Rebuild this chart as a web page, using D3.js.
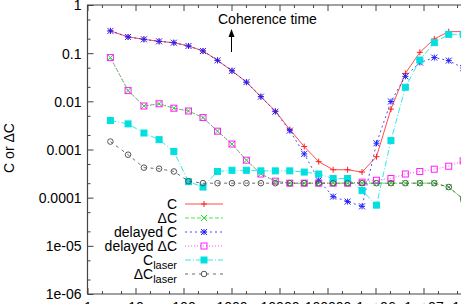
<!DOCTYPE html>
<html>
<head>
<meta charset="utf-8">
<script src="https://cdn.jsdelivr.net/npm/d3@7"></script>
<style>
  body { margin: 0; background: #fff; }
  svg { display: block; font-family: "Liberation Sans", Arial, sans-serif; }
  .tick text { font-size: 14px; fill: #000; }
</style>
</head>
<body>
<div id="chart"></div>
<script>
// time steps (x axis)
const steps = [3, 7, 15, 31, 63, 127, 255, 511, 1023, 2047, 4095, 8191, 16383, 32767,
    65535, 131071, 262143, 524287, 1048575, 2097151, 4194303, 8388607, 16777215, 33554431, 67108863];

const cValues = [0.29, 0.217, 0.194, 0.176, 0.165, 0.141, 0.111, 0.071, 0.043, 0.025, 0.0125, 0.0063,
    0.0026, 0.00115, 0.00056, 0.00038, 0.00038, 0.00034, 0.00071, 0.0069, 0.038, 0.104, 0.197, 0.28, 0.28];
const dcValues = [0.081, 0.0167, 0.008, 0.0089, 0.0072, 0.0063, 0.0046, 0.0024, 0.0013, 0.0006, 0.00031,
    0.00022, 0.0002, 0.0002, 0.0002, 0.0002, 0.0002, 0.0002, 0.0002, 0.0002, 0.0002, 0.0002, 0.0002, 0.000166, 0.000093];
const delayedC = [0.29, 0.217, 0.194, 0.176, 0.165, 0.141, 0.111, 0.071, 0.043, 0.025, 0.0125, 0.0061,
    0.00246, 0.00081, 0.00023, 0.000105, 0.000083, 0.000066, 0.00135, 0.0099, 0.033, 0.064, 0.081, 0.07, 0.049];
const delayedDC = [0.081, 0.0167, 0.008, 0.0089, 0.0072, 0.0063, 0.0046, 0.0024, 0.0013, 0.0006, 0.00031,
    0.00022, 0.0002, 0.0002, 0.0002, 0.0002, 0.0002, 0.00021, 0.00023, 0.00025, 0.00031, 0.00035, 0.00039, 0.00045, 0.00058];
const cLaser = [0.004, 0.0034, 0.0022, 0.0016, 0.00091, 0.000215, 0.000166, 0.00035, 0.00037, 0.00037, 0.00036,
    0.00036, 0.00036, 0.00034, 0.00031, 0.00025, 0.00025, 0.00014, 0.00007, 0.00153, 0.0196, 0.072, 0.165, 0.246, 0.246];
const dcLaser = [0.00146, 0.00078, 0.00042, 0.0004, 0.00035, 0.00022, 0.0002, 0.0002, 0.0002, 0.0002, 0.0002,
    0.0002, 0.0002, 0.0002, 0.0002, 0.0002, 0.0002, 0.0002, 0.0002, 0.0002, 0.0002, 0.0002, 0.0002, 0.000166, 0.000093];

const xTickValues = [1, 10, 100, 1000, 10000, 100000, 1e6, 1e7, 1e8];
const xTickLabels = ["1", "10", "100", "1000", "10000", "100000", "1e+06", "1e+07", "1e+08"];
const yTickValues = [1, 0.1, 0.01, 0.001, 0.0001, 1e-5, 1e-6];
const yTickLabels = ["1", "0.1", "0.01", "0.001", "0.0001", "1e-05", "1e-06"];

// series: name, subscript, colour, dash, marker
const seriesInfo = [
    {name: "C", sub: "", values: cValues, color: "#ff2020", dash: null, marker: "plus"},
    {name: "\u0394C", sub: "", values: dcValues, color: "#20e020", dash: "4,2", marker: "cross"},
    {name: "delayed C", sub: "", values: delayedC, color: "#2020ff", dash: "2,3", marker: "star"},
    {name: "delayed \u0394C", sub: "", values: delayedDC, color: "#ff20ff", dash: "1,2", marker: "box"},
    {name: "C", sub: "laser", values: cLaser, color: "#00e0e0", dash: "6,2,1,2", marker: "fbox"},
    {name: "\u0394C", sub: "laser", values: dcLaser, color: "#444444", dash: "3,4", marker: "circle"}
];

const W = 461, H = 304;
const plotLeft = 87.5, plotTop = 5, plotBottom = 294;
const decade = 48;

const xScale = d3.scaleLog().domain([1, 1e8]).range([plotLeft, plotLeft + 8 * decade]);
const yScale = d3.scaleLog().domain([1e-6, 1]).range([plotBottom, plotTop]);

const svg = d3.select("#chart").append("svg")
    .attr("width", W)
    .attr("height", H);

svg.append("defs").append("clipPath").attr("id", "plotClip")
    .append("rect")
    .attr("x", plotLeft).attr("y", plotTop)
    .attr("width", 8 * decade).attr("height", plotBottom - plotTop);

// minor ticks at 2 and 5 in each decade
function minorTicks(lo, hi) {
    let out = [];
    for (let p = lo; p < hi; p++) {
        out.push(2 * Math.pow(10, p), 5 * Math.pow(10, p));
    }
    return out;
}

const axisColor = "#444";

function styleAxis(g) {
    g.select(".domain").remove();
    g.selectAll(".tick line").attr("stroke", axisColor).attr("stroke-width", 1);
}

// x axis, bottom (ticks inward)
svg.append("g")
    .attr("transform", "translate(0," + plotBottom + ")")
    .call(d3.axisBottom(xScale).tickValues(xTickValues).tickSizeInner(-6).tickSizeOuter(0)
        .tickPadding(8).tickFormat(function(d, i) { return xTickLabels[i]; }))
    .call(styleAxis);
svg.append("g")
    .attr("transform", "translate(0," + plotBottom + ")")
    .call(d3.axisBottom(xScale).tickValues(minorTicks(0, 8)).tickSizeInner(-3).tickSizeOuter(0).tickFormat(""))
    .call(styleAxis);
// x axis, top mirror
svg.append("g")
    .attr("transform", "translate(0," + plotTop + ")")
    .call(d3.axisTop(xScale).tickValues(xTickValues).tickSizeInner(-6).tickSizeOuter(0).tickFormat(""))
    .call(styleAxis);
svg.append("g")
    .attr("transform", "translate(0," + plotTop + ")")
    .call(d3.axisTop(xScale).tickValues(minorTicks(0, 8)).tickSizeInner(-3).tickSizeOuter(0).tickFormat(""))
    .call(styleAxis);

// y axis
svg.append("g")
    .attr("transform", "translate(" + plotLeft + ",0)")
    .call(d3.axisLeft(yScale).tickValues(yTickValues).tickSizeInner(-6).tickSizeOuter(0)
        .tickPadding(6).tickFormat(function(d, i) { return yTickLabels[i]; }))
    .call(styleAxis)
    .selectAll("text").attr("dy", "0.35em");
svg.append("g")
    .attr("transform", "translate(" + plotLeft + ",0)")
    .call(d3.axisLeft(yScale).tickValues(minorTicks(-6, 0)).tickSizeInner(-3).tickSizeOuter(0).tickFormat(""))
    .call(styleAxis);

// frame
svg.append("path")
    .attr("d", "M" + W + "," + plotTop + "H" + plotLeft + "V" + plotBottom + "H" + W)
    .attr("fill", "none")
    .attr("stroke", axisColor)
    .attr("stroke-width", 1.2);

// y label
svg.append("text")
    .attr("transform", "translate(14,148) rotate(-90)")
    .attr("text-anchor", "middle")
    .style("font-size", "14px")
    .text("C or \u0394C");

// coherence time annotation
svg.append("text")
    .attr("x", 218).attr("y", 24)
    .style("font-size", "14px")
    .text("Coherence time");
svg.append("line")
    .attr("x1", 231.5).attr("y1", 52).attr("x2", 231.5).attr("y2", 31)
    .attr("stroke", "#000").attr("stroke-width", 1);
svg.append("path")
    .attr("d", "M231.5,29 L228.5,37 L234.5,37 Z")
    .attr("fill", "#000");

function drawMarker(g, type, cx, cy, color) {
    const s = 3;
    if (type === "plus" || type === "star") {
        g.append("path").attr("d", "M" + (cx - s) + "," + cy + "H" + (cx + s) + "M" + cx + "," + (cy - s) + "V" + (cy + s))
            .attr("stroke", color).attr("stroke-width", 1).attr("fill", "none");
    }
    if (type === "cross" || type === "star") {
        g.append("path").attr("d", "M" + (cx - s) + "," + (cy - s) + "L" + (cx + s) + "," + (cy + s) +
                "M" + (cx - s) + "," + (cy + s) + "L" + (cx + s) + "," + (cy - s))
            .attr("stroke", color).attr("stroke-width", 1).attr("fill", "none");
    }
    if (type === "box" || type === "fbox") {
        g.append("rect").attr("x", cx - s).attr("y", cy - s).attr("width", 2 * s).attr("height", 2 * s)
            .attr("stroke", color).attr("stroke-width", 1)
            .attr("fill", type === "fbox" ? color : "none");
    }
    if (type === "circle") {
        g.append("circle").attr("cx", cx).attr("cy", cy).attr("r", 2.8)
            .attr("stroke", "#555").attr("stroke-width", 1).attr("fill", "none");
    }
}

const line = d3.line()
    .x(function(d) { return xScale(d.x); })
    .y(function(d) { return yScale(d.y); });

const plotG = svg.append("g").attr("clip-path", "url(#plotClip)");

seriesInfo.forEach(function(s) {
    const pts = steps.map(function(x, i) { return {x: x, y: s.values[i]}; });
    plotG.append("path")
        .attr("d", line(pts))
        .attr("fill", "none")
        .attr("stroke", s.color)
        .attr("stroke-width", 0.8)
        .attr("stroke-dasharray", s.dash);
    pts.forEach(function(p) {
        drawMarker(plotG, s.marker, xScale(p.x), yScale(p.y), s.color);
    });
});

// legend
const legendG = svg.append("g");
seriesInfo.forEach(function(s, i) {
    const ly = 204 + i * 14;
    const t = legendG.append("text")
        .attr("x", 177).attr("y", ly + 5)
        .attr("text-anchor", "end")
        .style("font-size", "14px");
    t.append("tspan").text(s.name);
    if (s.sub) {
        t.append("tspan").attr("dy", 4).style("font-size", "11px").text(s.sub);
    }
    legendG.append("line")
        .attr("x1", 185).attr("x2", 223).attr("y1", ly).attr("y2", ly)
        .attr("stroke", s.color).attr("stroke-width", 0.8)
        .attr("stroke-dasharray", s.dash);
    drawMarker(legendG, s.marker, 204, ly, s.color);
});
</script>
</body>
</html>
